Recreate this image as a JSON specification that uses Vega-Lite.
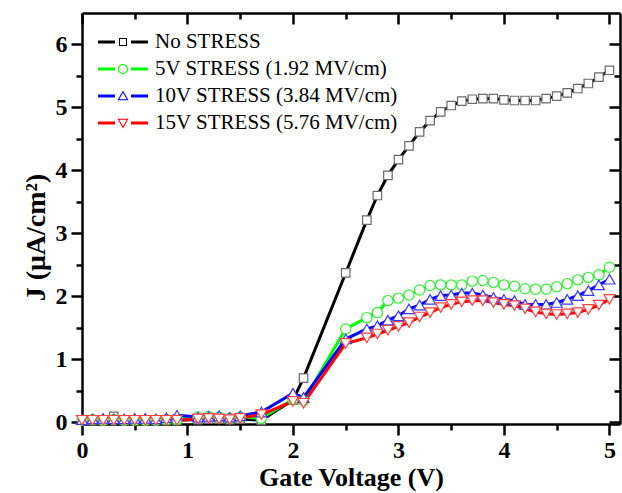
{
  "$schema": "https://vega.github.io/schema/vega-lite/v6.json",
  "width": 538,
  "height": 411,
  "autosize": {"type": "none"},
  "padding": {"left": 82, "top": 13, "right": 2, "bottom": 69},
  "background": "white",
  "config": {
    "view": {"stroke": null},
    "axis": {
      "grid": false,
      "domainColor": "black",
      "domainWidth": 2.5,
      "tickColor": "black",
      "tickWidth": 2.5,
      "labelFont": "Liberation Serif",
      "labelFontWeight": "bold",
      "labelFontSize": 24,
      "labelColor": "black",
      "labelFlush": false,
      "labelOverlap": false,
      "titleFont": "Liberation Serif",
      "titleFontWeight": "bold",
      "titleFontSize": 26,
      "titleColor": "black"
    }
  },
  "data": {"values": [
    {"s":"No STRESS","v":0,"j":0.03},{"s":"No STRESS","v":0.1,"j":0.03},{"s":"No STRESS","v":0.2,"j":0.03},{"s":"No STRESS","v":0.3,"j":0.09},{"s":"No STRESS","v":0.4,"j":0.03},{"s":"No STRESS","v":0.5,"j":0.03},{"s":"No STRESS","v":0.6,"j":0.03},{"s":"No STRESS","v":0.7,"j":0.03},{"s":"No STRESS","v":0.8,"j":0.03},{"s":"No STRESS","v":0.9,"j":0.03},
    {"s":"No STRESS","v":1.1,"j":0.04},{"s":"No STRESS","v":1.2,"j":0.05},{"s":"No STRESS","v":1.3,"j":0.05},{"s":"No STRESS","v":1.4,"j":0.04},{"s":"No STRESS","v":1.5,"j":0.05},{"s":"No STRESS","v":1.7,"j":0.03},{"s":"No STRESS","v":2.0,"j":0.35},{"s":"No STRESS","v":2.1,"j":0.70},{"s":"No STRESS","v":2.5,"j":2.37},
    {"s":"No STRESS","v":2.7,"j":3.21},{"s":"No STRESS","v":2.8,"j":3.6},{"s":"No STRESS","v":2.9,"j":3.92},{"s":"No STRESS","v":3.0,"j":4.17},{"s":"No STRESS","v":3.1,"j":4.39},{"s":"No STRESS","v":3.2,"j":4.61},{"s":"No STRESS","v":3.3,"j":4.79},{"s":"No STRESS","v":3.4,"j":4.93},{"s":"No STRESS","v":3.5,"j":5.03},{"s":"No STRESS","v":3.6,"j":5.1},{"s":"No STRESS","v":3.7,"j":5.13},{"s":"No STRESS","v":3.8,"j":5.14},{"s":"No STRESS","v":3.9,"j":5.14},{"s":"No STRESS","v":4.0,"j":5.12},{"s":"No STRESS","v":4.1,"j":5.11},{"s":"No STRESS","v":4.2,"j":5.11},{"s":"No STRESS","v":4.3,"j":5.11},{"s":"No STRESS","v":4.4,"j":5.14},{"s":"No STRESS","v":4.5,"j":5.18},{"s":"No STRESS","v":4.6,"j":5.23},{"s":"No STRESS","v":4.7,"j":5.3},{"s":"No STRESS","v":4.8,"j":5.38},{"s":"No STRESS","v":4.9,"j":5.48},{"s":"No STRESS","v":5.0,"j":5.59},

    {"s":"5V STRESS (1.92 MV/cm)","v":0,"j":0.03},{"s":"5V STRESS (1.92 MV/cm)","v":0.1,"j":0.04},{"s":"5V STRESS (1.92 MV/cm)","v":0.2,"j":0.03},{"s":"5V STRESS (1.92 MV/cm)","v":0.3,"j":0.04},{"s":"5V STRESS (1.92 MV/cm)","v":0.4,"j":0.03},{"s":"5V STRESS (1.92 MV/cm)","v":0.5,"j":0.03},{"s":"5V STRESS (1.92 MV/cm)","v":0.6,"j":0.03},{"s":"5V STRESS (1.92 MV/cm)","v":0.7,"j":0.03},{"s":"5V STRESS (1.92 MV/cm)","v":0.8,"j":0.04},{"s":"5V STRESS (1.92 MV/cm)","v":0.9,"j":0.04},
    {"s":"5V STRESS (1.92 MV/cm)","v":1.1,"j":0.08},{"s":"5V STRESS (1.92 MV/cm)","v":1.2,"j":0.09},{"s":"5V STRESS (1.92 MV/cm)","v":1.3,"j":0.08},{"s":"5V STRESS (1.92 MV/cm)","v":1.4,"j":0.06},{"s":"5V STRESS (1.92 MV/cm)","v":1.5,"j":0.08},{"s":"5V STRESS (1.92 MV/cm)","v":1.7,"j":0.06},{"s":"5V STRESS (1.92 MV/cm)","v":2.0,"j":0.36},{"s":"5V STRESS (1.92 MV/cm)","v":2.1,"j":0.34},{"s":"5V STRESS (1.92 MV/cm)","v":2.5,"j":1.48},
    {"s":"5V STRESS (1.92 MV/cm)","v":2.7,"j":1.66},{"s":"5V STRESS (1.92 MV/cm)","v":2.8,"j":1.74},{"s":"5V STRESS (1.92 MV/cm)","v":2.9,"j":1.93},{"s":"5V STRESS (1.92 MV/cm)","v":3.0,"j":1.97},{"s":"5V STRESS (1.92 MV/cm)","v":3.1,"j":2.02},{"s":"5V STRESS (1.92 MV/cm)","v":3.2,"j":2.1},{"s":"5V STRESS (1.92 MV/cm)","v":3.3,"j":2.17},{"s":"5V STRESS (1.92 MV/cm)","v":3.4,"j":2.18},{"s":"5V STRESS (1.92 MV/cm)","v":3.5,"j":2.18},{"s":"5V STRESS (1.92 MV/cm)","v":3.6,"j":2.18},{"s":"5V STRESS (1.92 MV/cm)","v":3.7,"j":2.24},{"s":"5V STRESS (1.92 MV/cm)","v":3.8,"j":2.25},{"s":"5V STRESS (1.92 MV/cm)","v":3.9,"j":2.22},{"s":"5V STRESS (1.92 MV/cm)","v":4.0,"j":2.18},{"s":"5V STRESS (1.92 MV/cm)","v":4.1,"j":2.16},{"s":"5V STRESS (1.92 MV/cm)","v":4.2,"j":2.12},{"s":"5V STRESS (1.92 MV/cm)","v":4.3,"j":2.11},{"s":"5V STRESS (1.92 MV/cm)","v":4.4,"j":2.11},{"s":"5V STRESS (1.92 MV/cm)","v":4.5,"j":2.15},{"s":"5V STRESS (1.92 MV/cm)","v":4.6,"j":2.2},{"s":"5V STRESS (1.92 MV/cm)","v":4.7,"j":2.26},{"s":"5V STRESS (1.92 MV/cm)","v":4.8,"j":2.3},{"s":"5V STRESS (1.92 MV/cm)","v":4.9,"j":2.34},{"s":"5V STRESS (1.92 MV/cm)","v":5.0,"j":2.46},

    {"s":"10V STRESS (3.84 MV/cm)","v":0,"j":0.04},{"s":"10V STRESS (3.84 MV/cm)","v":0.1,"j":0.05},{"s":"10V STRESS (3.84 MV/cm)","v":0.2,"j":0.06},{"s":"10V STRESS (3.84 MV/cm)","v":0.3,"j":0.05},{"s":"10V STRESS (3.84 MV/cm)","v":0.4,"j":0.05},{"s":"10V STRESS (3.84 MV/cm)","v":0.5,"j":0.06},{"s":"10V STRESS (3.84 MV/cm)","v":0.6,"j":0.06},{"s":"10V STRESS (3.84 MV/cm)","v":0.7,"j":0.05},{"s":"10V STRESS (3.84 MV/cm)","v":0.8,"j":0.07},{"s":"10V STRESS (3.84 MV/cm)","v":0.9,"j":0.11},
    {"s":"10V STRESS (3.84 MV/cm)","v":1.1,"j":0.08},{"s":"10V STRESS (3.84 MV/cm)","v":1.2,"j":0.09},{"s":"10V STRESS (3.84 MV/cm)","v":1.3,"j":0.1},{"s":"10V STRESS (3.84 MV/cm)","v":1.4,"j":0.08},{"s":"10V STRESS (3.84 MV/cm)","v":1.5,"j":0.1},{"s":"10V STRESS (3.84 MV/cm)","v":1.7,"j":0.16},{"s":"10V STRESS (3.84 MV/cm)","v":2.0,"j":0.46},{"s":"10V STRESS (3.84 MV/cm)","v":2.1,"j":0.39},{"s":"10V STRESS (3.84 MV/cm)","v":2.5,"j":1.32},
    {"s":"10V STRESS (3.84 MV/cm)","v":2.7,"j":1.48},{"s":"10V STRESS (3.84 MV/cm)","v":2.8,"j":1.53},{"s":"10V STRESS (3.84 MV/cm)","v":2.9,"j":1.62},{"s":"10V STRESS (3.84 MV/cm)","v":3.0,"j":1.69},{"s":"10V STRESS (3.84 MV/cm)","v":3.1,"j":1.8},{"s":"10V STRESS (3.84 MV/cm)","v":3.2,"j":1.86},{"s":"10V STRESS (3.84 MV/cm)","v":3.3,"j":1.95},{"s":"10V STRESS (3.84 MV/cm)","v":3.4,"j":2.01},{"s":"10V STRESS (3.84 MV/cm)","v":3.5,"j":2.02},{"s":"10V STRESS (3.84 MV/cm)","v":3.6,"j":2.05},{"s":"10V STRESS (3.84 MV/cm)","v":3.7,"j":2.05},{"s":"10V STRESS (3.84 MV/cm)","v":3.8,"j":2.02},{"s":"10V STRESS (3.84 MV/cm)","v":3.9,"j":1.98},{"s":"10V STRESS (3.84 MV/cm)","v":4.0,"j":1.95},{"s":"10V STRESS (3.84 MV/cm)","v":4.1,"j":1.93},{"s":"10V STRESS (3.84 MV/cm)","v":4.2,"j":1.87},{"s":"10V STRESS (3.84 MV/cm)","v":4.3,"j":1.87},{"s":"10V STRESS (3.84 MV/cm)","v":4.4,"j":1.87},{"s":"10V STRESS (3.84 MV/cm)","v":4.5,"j":1.9},{"s":"10V STRESS (3.84 MV/cm)","v":4.6,"j":1.95},{"s":"10V STRESS (3.84 MV/cm)","v":4.7,"j":2.01},{"s":"10V STRESS (3.84 MV/cm)","v":4.8,"j":2.09},{"s":"10V STRESS (3.84 MV/cm)","v":4.9,"j":2.18},{"s":"10V STRESS (3.84 MV/cm)","v":5.0,"j":2.27},

    {"s":"15V STRESS (5.76 MV/cm)","v":0,"j":0.03},{"s":"15V STRESS (5.76 MV/cm)","v":0.1,"j":0.03},{"s":"15V STRESS (5.76 MV/cm)","v":0.2,"j":0.03},{"s":"15V STRESS (5.76 MV/cm)","v":0.3,"j":0.03},{"s":"15V STRESS (5.76 MV/cm)","v":0.4,"j":0.03},{"s":"15V STRESS (5.76 MV/cm)","v":0.5,"j":0.03},{"s":"15V STRESS (5.76 MV/cm)","v":0.6,"j":0.03},{"s":"15V STRESS (5.76 MV/cm)","v":0.7,"j":0.03},{"s":"15V STRESS (5.76 MV/cm)","v":0.8,"j":0.03},{"s":"15V STRESS (5.76 MV/cm)","v":0.9,"j":0.03},
    {"s":"15V STRESS (5.76 MV/cm)","v":1.1,"j":0.05},{"s":"15V STRESS (5.76 MV/cm)","v":1.2,"j":0.06},{"s":"15V STRESS (5.76 MV/cm)","v":1.3,"j":0.05},{"s":"15V STRESS (5.76 MV/cm)","v":1.4,"j":0.04},{"s":"15V STRESS (5.76 MV/cm)","v":1.5,"j":0.06},{"s":"15V STRESS (5.76 MV/cm)","v":1.7,"j":0.12},{"s":"15V STRESS (5.76 MV/cm)","v":2.0,"j":0.33},{"s":"15V STRESS (5.76 MV/cm)","v":2.1,"j":0.30},{"s":"15V STRESS (5.76 MV/cm)","v":2.5,"j":1.25},
    {"s":"15V STRESS (5.76 MV/cm)","v":2.7,"j":1.34},{"s":"15V STRESS (5.76 MV/cm)","v":2.8,"j":1.4},{"s":"15V STRESS (5.76 MV/cm)","v":2.9,"j":1.46},{"s":"15V STRESS (5.76 MV/cm)","v":3.0,"j":1.52},{"s":"15V STRESS (5.76 MV/cm)","v":3.1,"j":1.58},{"s":"15V STRESS (5.76 MV/cm)","v":3.2,"j":1.67},{"s":"15V STRESS (5.76 MV/cm)","v":3.3,"j":1.74},{"s":"15V STRESS (5.76 MV/cm)","v":3.4,"j":1.82},{"s":"15V STRESS (5.76 MV/cm)","v":3.5,"j":1.87},{"s":"15V STRESS (5.76 MV/cm)","v":3.6,"j":1.91},{"s":"15V STRESS (5.76 MV/cm)","v":3.7,"j":1.93},{"s":"15V STRESS (5.76 MV/cm)","v":3.8,"j":1.93},{"s":"15V STRESS (5.76 MV/cm)","v":3.9,"j":1.9},{"s":"15V STRESS (5.76 MV/cm)","v":4.0,"j":1.87},{"s":"15V STRESS (5.76 MV/cm)","v":4.1,"j":1.85},{"s":"15V STRESS (5.76 MV/cm)","v":4.2,"j":1.8},{"s":"15V STRESS (5.76 MV/cm)","v":4.3,"j":1.75},{"s":"15V STRESS (5.76 MV/cm)","v":4.4,"j":1.72},{"s":"15V STRESS (5.76 MV/cm)","v":4.5,"j":1.71},{"s":"15V STRESS (5.76 MV/cm)","v":4.6,"j":1.72},{"s":"15V STRESS (5.76 MV/cm)","v":4.7,"j":1.74},{"s":"15V STRESS (5.76 MV/cm)","v":4.8,"j":1.79},{"s":"15V STRESS (5.76 MV/cm)","v":4.9,"j":1.86},{"s":"15V STRESS (5.76 MV/cm)","v":5.0,"j":1.95}
  ]},
  "resolve": {"axis": {"x": "independent", "y": "independent"}},
  "layer": [
    {
      "mark": {"type": "line", "strokeWidth": 3},
      "encoding": {
        "x": {"field": "v", "type": "quantitative", "scale": {"domain": [0, 5.1], "nice": false, "zero": false},
          "axis": {"orient": "bottom", "values": [0, 1, 2, 3, 4, 5], "tickSize": 11, "labelPadding": 3, "title": "Gate Voltage (V)", "titlePadding": 2}},
        "y": {"field": "j", "type": "quantitative", "scale": {"domain": [-0.03, 6.5], "nice": false, "zero": false},
          "axis": {"orient": "left", "values": [0, 1, 2, 3, 4, 5, 6], "tickSize": 11, "labelPadding": 4, "title": "J (μA/cm²)", "titleFontSize": 28, "titlePadding": 5, "titleY": 224}},
        "color": {"field": "s", "type": "nominal",
          "scale": {"domain": ["No STRESS", "5V STRESS (1.92 MV/cm)", "10V STRESS (3.84 MV/cm)", "15V STRESS (5.76 MV/cm)"], "range": ["#000000", "#00ff00", "#0000ff", "#ff0000"]},
          "legend": {
            "title": null, "orient": "none", "legendX": 11, "legendY": 19, "padding": 0,
            "symbolType": "M-1,-0.06L-0.32,-0.06L-0.32,0.06L-1,0.06Z",
            "symbolSize": 2500, "symbolStrokeWidth": 0, "symbolOffset": 5,
            "labelOffset": 7, "clipHeight": 20, "rowPadding": 6,
            "labelFont": "Liberation Serif", "labelFontSize": 21, "labelColor": "black", "labelLimit": 0,
            "encode": {"symbols": {"update": {
              "shape": {"signal": "datum.value === 'No STRESS' ? 'M-1,-0.06L-0.32,-0.06L-0.32,0.06L-1,0.06Z M0.32,-0.06L1,-0.06L1,0.06L0.32,0.06Z M-0.16,-0.16L0.16,-0.16L0.16,0.16L-0.16,0.16Z M-0.12,-0.12L-0.12,0.12L0.12,0.12L0.12,-0.12Z' : datum.value === '5V STRESS (1.92 MV/cm)' ? 'M-1,-0.06L-0.32,-0.06L-0.32,0.06L-1,0.06Z M0.32,-0.06L1,-0.06L1,0.06L0.32,0.06Z M-0.2,0A0.2,0.2,0,1,1,0.2,0A0.2,0.2,0,1,1,-0.2,0Z M-0.16,0A0.16,0.16,0,1,0,0.16,0A0.16,0.16,0,1,0,-0.16,0Z' : datum.value === '10V STRESS (3.84 MV/cm)' ? 'M-1,-0.06L-0.32,-0.06L-0.32,0.06L-1,0.06Z M0.32,-0.06L1,-0.06L1,0.06L0.32,0.06Z M0,-0.22L0.22,0.17L-0.22,0.17Z M0,-0.13L-0.15,0.13L0.15,0.13Z' : 'M-1,-0.06L-0.32,-0.06L-0.32,0.06L-1,0.06Z M0.32,-0.06L1,-0.06L1,0.06L0.32,0.06Z M0,0.22L-0.22,-0.17L0.22,-0.17Z M0,0.13L0.15,-0.13L-0.15,-0.13Z'"},
              "size": {"value": 2500},
              "fill": {"signal": "datum.value === 'No STRESS' ? '#000000' : datum.value === '5V STRESS (1.92 MV/cm)' ? '#00ff00' : datum.value === '10V STRESS (3.84 MV/cm)' ? '#0000ff' : '#ff0000'"},
              "stroke": {"value": "transparent"},
              "strokeWidth": {"value": 0},
              "opacity": {"value": 1}
            }}}
          }
        }
      }
    },
    {
      "transform": [{"filter": {"field": "s", "equal": "No STRESS"}}],
      "mark": {"type": "point", "shape": "square", "size": 72, "filled": false, "fill": "white", "fillOpacity": 1, "stroke": "#6a6a6a", "strokeWidth": 1.2, "opacity": 1},
      "encoding": {
        "x": {"field": "v", "type": "quantitative",
          "axis": {"orient": "bottom", "values": [0.5, 1.5, 2.5, 3.5, 4.5], "tickSize": 6, "labels": false, "domain": false, "title": null}},
        "y": {"field": "j", "type": "quantitative",
          "axis": {"orient": "left", "values": [0.5, 1.5, 2.5, 3.5, 4.5, 5.5], "tickSize": 6, "labels": false, "domain": false, "title": null}}
      }
    },
    {
      "transform": [{"filter": {"field": "s", "equal": "5V STRESS (1.92 MV/cm)"}}],
      "mark": {"type": "point", "shape": "circle", "size": 105, "filled": false, "fill": "white", "fillOpacity": 1, "stroke": "#30f030", "strokeWidth": 1.2, "opacity": 1},
      "encoding": {
        "x": {"field": "v", "type": "quantitative",
          "axis": {"orient": "top", "values": [0, 1, 2, 3, 4, 5], "tickSize": -11, "labels": false, "domain": true, "title": null}},
        "y": {"field": "j", "type": "quantitative",
          "axis": {"orient": "right", "values": [0, 1, 2, 3, 4, 5, 6], "tickSize": -11, "labels": false, "domain": true, "title": null}}
      }
    },
    {
      "transform": [{"filter": {"field": "s", "equal": "10V STRESS (3.84 MV/cm)"}}],
      "mark": {"type": "point", "shape": "triangle-up", "size": 120, "filled": false, "fill": "white", "fillOpacity": 1, "stroke": "#3a3aff", "strokeWidth": 1.2, "opacity": 1},
      "encoding": {
        "x": {"field": "v", "type": "quantitative",
          "axis": {"orient": "top", "values": [0.5, 1.5, 2.5, 3.5, 4.5], "tickSize": -6, "labels": false, "domain": false, "title": null}},
        "y": {"field": "j", "type": "quantitative",
          "axis": {"orient": "right", "values": [0.5, 1.5, 2.5, 3.5, 4.5, 5.5], "tickSize": -6, "labels": false, "domain": false, "title": null}}
      }
    },
    {
      "transform": [{"filter": {"field": "s", "equal": "15V STRESS (5.76 MV/cm)"}}],
      "mark": {"type": "point", "shape": "triangle-down", "size": 120, "filled": false, "fill": "white", "fillOpacity": 1, "stroke": "#ff4040", "strokeWidth": 1.2, "opacity": 1},
      "encoding": {
        "x": {"field": "v", "type": "quantitative", "axis": null},
        "y": {"field": "j", "type": "quantitative", "axis": null}
      }
    }
  ]
}
